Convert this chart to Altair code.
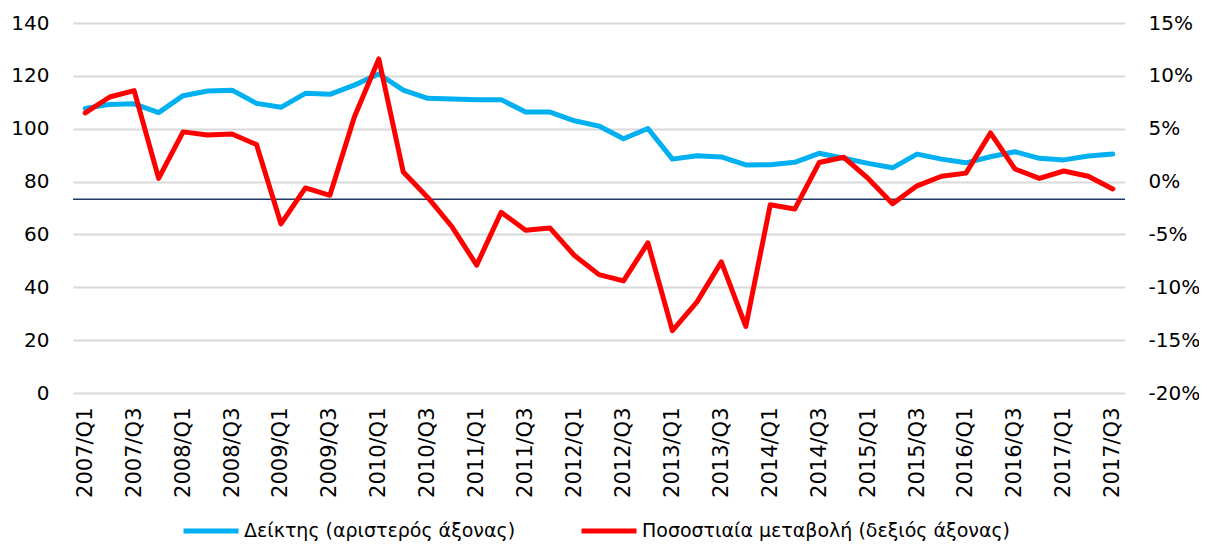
import altair as alt
import pandas as pd

quarters = [
    "2007/Q1", "2007/Q2", "2007/Q3", "2007/Q4",
    "2008/Q1", "2008/Q2", "2008/Q3", "2008/Q4",
    "2009/Q1", "2009/Q2", "2009/Q3", "2009/Q4",
    "2010/Q1", "2010/Q2", "2010/Q3", "2010/Q4",
    "2011/Q1", "2011/Q2", "2011/Q3", "2011/Q4",
    "2012/Q1", "2012/Q2", "2012/Q3", "2012/Q4",
    "2013/Q1", "2013/Q2", "2013/Q3", "2013/Q4",
    "2014/Q1", "2014/Q2", "2014/Q3", "2014/Q4",
    "2015/Q1", "2015/Q2", "2015/Q3", "2015/Q4",
    "2016/Q1", "2016/Q2", "2016/Q3", "2016/Q4",
    "2017/Q1", "2017/Q2", "2017/Q3",
]

index_values = [
    107.7, 109.2, 109.4, 106.1,
    112.5, 114.3, 114.6, 109.6,
    108.1, 113.4, 113.0, 116.5,
    120.7, 114.6, 111.5, 111.2,
    111.0, 111.0, 106.3, 106.3,
    103.0, 101.0, 96.2, 100.1,
    88.5, 89.8, 89.3, 86.3,
    86.4, 87.3, 90.7, 88.8,
    86.9, 85.2, 90.4, 88.5,
    87.1, 89.4, 91.3, 88.8,
    88.2, 89.7, 90.4,
]

pct_change = [
    6.5, 8.0, 8.6, 0.3,
    4.7, 4.4, 4.5, 3.5,
    -4.0, -0.6, -1.3, 6.1,
    11.6, 0.9, -1.5, -4.3,
    -7.9, -2.9, -4.6, -4.4,
    -7.0, -8.8, -9.4, -5.8,
    -14.1, -11.4, -7.6, -13.7,
    -2.2, -2.6, 1.8, 2.3,
    0.3, -2.1, -0.4, 0.5,
    0.8, 4.6, 1.2, 0.3,
    1.0, 0.5, -0.7,
]

reference_level = [73.3]

label_quarters = [q for q in quarters if q.endswith("Q1") or q.endswith("Q3")]
left_ticks = [0, 20, 40, 60, 80, 100, 120, 140]
right_ticks = [-20, -15, -10, -5, 0, 5, 10, 15]

series_names = ["Δείκτης (αριστερός άξονας)", "Ποσοστιαία μεταβολή (δεξιός άξονας)"]
series_colors = ["#00b0f0", "#ff0000"]

df_index = pd.DataFrame({"quarter": quarters, "value": index_values, "series": series_names[0]})
df_pct = pd.DataFrame({"quarter": quarters, "value": pct_change, "series": series_names[1]})
df_ref = pd.DataFrame({"value": reference_level})

FONT = "DejaVu Sans"

x_enc = alt.X(
    "quarter:O",
    sort=quarters,
    title=None,
    axis=alt.Axis(
        values=label_quarters,
        labelAngle=270,
        labelFontSize=21,
        labelFont=FONT,
        labelColor="black",
        domain=False,
        ticks=False,
        grid=False,
        labelPadding=14,
        labelLimit=300,
    ),
)

color_scale = alt.Scale(domain=series_names, range=series_colors)
legend = alt.Legend(
    orient="none",
    legendX=108,
    legendY=478,
    direction="horizontal",
    title=None,
    symbolType="stroke",
    symbolStrokeWidth=5,
    symbolSize=3025,
    labelFontSize=19,
    labelFont=FONT,
    labelColor="black",
    labelOffset=3,
    columnPadding=55,
    padding=0,
    labelLimit=600,
)

left_scale = alt.Scale(domain=[0, 140], nice=False, zero=False)
left_axis = alt.Axis(
    orient="left",
    values=left_ticks,
    labelFontSize=20,
    labelFont=FONT,
    labelColor="black",
    grid=True,
    gridColor="#d9d9d9",
    gridWidth=2,
    domain=False,
    ticks=False,
    labelPadding=24,
)

rule = alt.Chart(df_ref).mark_rule(color="#1f3864", strokeWidth=1.5).encode(
    y=alt.Y("value:Q", scale=left_scale, title=None, axis=left_axis)
)

blue = alt.Chart(df_index).mark_line(strokeWidth=5, strokeJoin="round", strokeCap="round").encode(
    x=x_enc,
    y=alt.Y("value:Q", scale=left_scale, title=None, axis=left_axis),
    color=alt.Color("series:N", scale=color_scale, legend=legend),
)

red = alt.Chart(df_pct).mark_line(strokeWidth=5, strokeJoin="round", strokeCap="round").encode(
    x=x_enc,
    y=alt.Y(
        "value:Q",
        scale=alt.Scale(domain=[-20, 15], nice=False, zero=False),
        title=None,
        axis=alt.Axis(
            orient="right",
            values=right_ticks,
            labelExpr="datum.value + '%'",
            labelFontSize=20,
            labelFont=FONT,
            labelColor="black",
            grid=False,
            domain=False,
            ticks=False,
            labelPadding=23,
        ),
    ),
    color=alt.Color("series:N", scale=color_scale, legend=legend),
)

chart = (
    alt.layer(alt.layer(rule, blue), red)
    .resolve_scale(y="independent")
    .properties(
        width=1052,
        height=370,
        padding={"left": 65, "top": 15, "right": 74, "bottom": 152},
        autosize=alt.AutoSizeParams(type="none"),
        background="white",
    )
    .configure_view(stroke=None)
)

chart.save("out.html", embed_options={"renderer": "svg", "actions": False})
